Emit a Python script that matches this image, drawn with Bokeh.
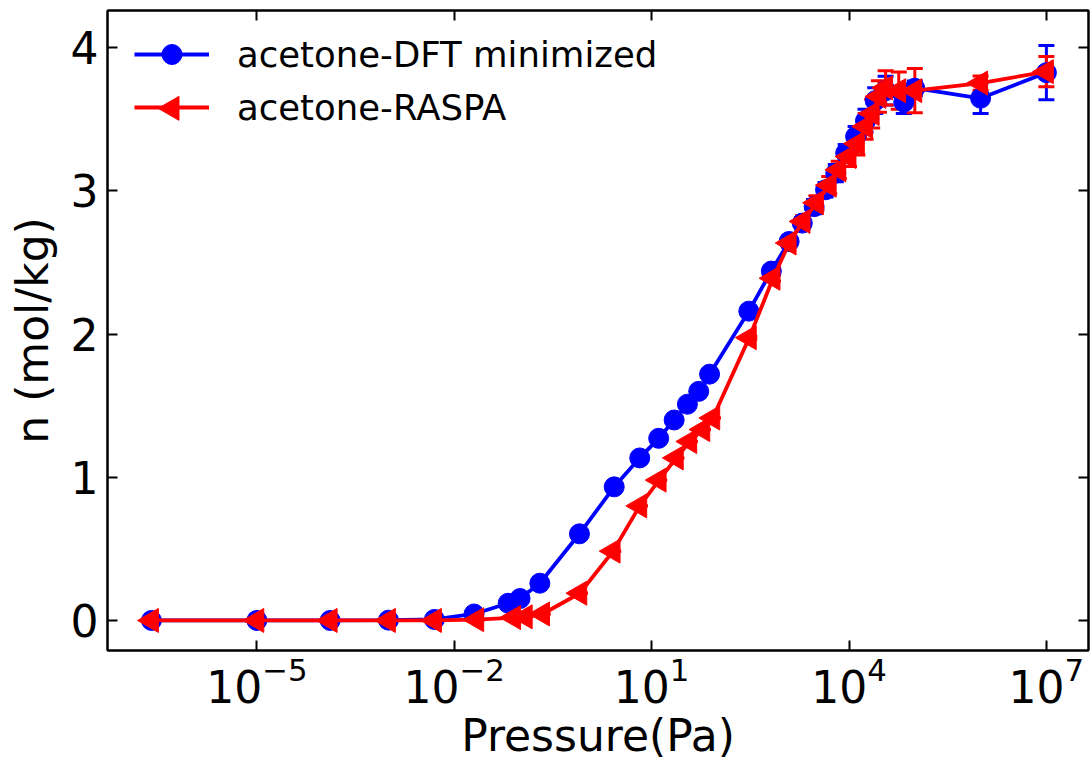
import numpy as np
from bokeh.plotting import figure
from bokeh.models import (Range1d, FixedTicker, LogAxis, LinearAxis, Whisker, TeeHead,
                          ColumnDataSource, Legend, LegendItem)
from bokeh.embed import file_html
from bokeh.resources import INLINE

# ---------------- data ----------------
p_dft = [2.5e-7, 1e-5, 1.3e-4, 1e-3, 5e-3, 0.02, 0.066, 0.1, 0.2, 0.8, 2.7, 6.6, 12.8, 22, 35, 52, 76,
         300, 660, 1230, 1950, 2950, 4400, 6300, 8900, 12600, 17800, 25000, 36000, 68000, 1e5, 1e6, 1e7]
n_dft = [0.0, 0.0, 0.0, 0.002, 0.007, 0.045, 0.12, 0.153, 0.26, 0.605, 0.933, 1.135, 1.272, 1.40, 1.51, 1.60, 1.72,
         2.16, 2.44, 2.647, 2.775, 2.89, 3.008, 3.124, 3.264, 3.38, 3.49, 3.63, 3.70, 3.62, 3.717, 3.647, 3.826]
e_dft = [0.0] * 17 + [0.01, 0.02, 0.03, 0.04, 0.05, 0.05, 0.06, 0.06, 0.07, 0.08, 0.09, 0.10, 0.08, 0.05, 0.107, 0.19]

p_raspa = [2.5e-7, 1e-5, 1.3e-4, 1e-3, 5e-3, 0.022, 0.08, 0.12, 0.22, 0.81, 2.6, 6.6, 13, 23.7, 38, 60, 85,
           305, 700, 1230, 2000, 3200, 5000, 7000, 10000, 13400, 17900, 22500, 28500, 36000, 57000, 1e5, 1e6, 1e7]
n_raspa = [0.0, 0.0, 0.0, 0.0, 0.0, 0.005, 0.02, 0.025, 0.045, 0.19, 0.484, 0.80, 0.98, 1.135, 1.25, 1.333, 1.414,
           1.975, 2.39, 2.636, 2.787, 2.917, 3.04, 3.147, 3.24, 3.33, 3.45, 3.54, 3.66, 3.72, 3.70, 3.70, 3.753, 3.833]
e_raspa = [0.0] * 17 + [0.01, 0.02, 0.03, 0.04, 0.05, 0.06, 0.06, 0.07, 0.08, 0.09, 0.10, 0.11, 0.12, 0.13, 0.155, 0.05, 0.105, 0.23]

x_ticks = [1e-5, 1e-2, 1e1, 1e4, 1e7]
y_ticks = [0, 1, 2, 3, 4]

label_dft = "acetone-DFT minimized"
label_raspa = "acetone-RASPA"

FONT = "DejaVu Sans"

# ---------------- layout constants ----------------
XLOG0, XLOG1 = -7.27, 7.64
Y0, Y1 = -0.21, 4.26
FRAME_W, FRAME_H = 980, 641
BORDER_L, BORDER_T = 108, 10

# ---------------- figure ----------------
p = figure(width=1092, height=763, x_axis_type="log", output_backend="svg", toolbar_location=None,
           x_range=Range1d(10 ** XLOG0, 10 ** XLOG1), y_range=Range1d(Y0, Y1),
           min_border_left=107, min_border_right=4, min_border_top=10, min_border_bottom=112)
p.background_fill_color = "white"
p.border_fill_color = "white"
p.outline_line_color = "black"
p.outline_line_width = 2
p.xgrid.visible = False
p.ygrid.visible = False

def style_axis(ax, show_labels=True):
    ax.major_tick_in = 10
    ax.major_tick_out = 0
    ax.major_tick_line_width = 2
    ax.major_tick_line_color = "black"
    ax.minor_tick_line_color = None
    ax.axis_line_width = 2
    ax.axis_line_color = "black"
    ax.major_label_text_font = FONT
    ax.axis_label_text_font = FONT
    ax.axis_label_text_font_style = "normal"
    ax.axis_label_text_color = "black"
    if show_labels:
        ax.major_label_text_color = "black"
        ax.major_label_text_font_size = "44px"
        ax.axis_label_text_font_size = "44px"
    else:
        ax.major_label_text_font_size = "1px"
        ax.major_label_text_alpha = 0
        ax.major_label_standoff = 0

xa = p.xaxis[0]
xa.ticker = FixedTicker(ticks=x_ticks)
style_axis(xa)
xa.axis_label = "Pressure(Pa)"
xa.major_label_standoff = 6
xa.axis_label_standoff = 4

ya = p.yaxis[0]
ya.ticker = FixedTicker(ticks=y_ticks)
style_axis(ya)
ya.axis_label = "n (mol/kg)"
ya.major_label_standoff = 9
ya.axis_label_standoff = 10

top = LogAxis(ticker=FixedTicker(ticks=x_ticks))
style_axis(top, show_labels=False)
p.add_layout(top, "above")
right = LinearAxis(ticker=FixedTicker(ticks=y_ticks))
style_axis(right, show_labels=False)
p.add_layout(right, "right")

# ---------------- series ----------------
def series(px, n, err, color, marker, angle):
    lower = [v - e for v, e in zip(n, err)]
    upper = [v + e for v, e in zip(n, err)]
    src = ColumnDataSource(dict(x=px, y=n, lower=lower, upper=upper))
    wh = Whisker(base="x", upper="upper", lower="lower", source=src, dimension="height",
                 line_color=color, line_width=3,
                 upper_head=TeeHead(size=16, line_color=color, line_width=3),
                 lower_head=TeeHead(size=16, line_color=color, line_width=3))
    p.add_layout(wh)
    ln = p.line("x", "y", source=src, line_color=color, line_width=3.8)
    sc = p.scatter("x", "y", source=src, marker=marker, size=20 if marker == "circle" else 24,
                   angle=angle, fill_color=color, line_color=color, line_width=1)
    return ln, sc

l1, s1 = series(p_dft, n_dft, e_dft, "#0000ff", "circle", 0.0)
l2, s2 = series(p_raspa, n_raspa, e_raspa, "#ff0000", "triangle", np.pi / 2)

# legend: rows centred at y=55 and y=108 px, handle from x=135 to 210 px
ROW_H, ROW_GAP = 50, 3
legend_h = 2 * ROW_H + ROW_GAP
legend = Legend(items=[LegendItem(label=label_dft, renderers=[l1, s1]),
                       LegendItem(label=label_raspa, renderers=[l2])],
                location=(135 - BORDER_L, FRAME_H - (55 - ROW_H / 2 - BORDER_T) - legend_h),
                margin=0, padding=0, spacing=ROW_GAP,
                glyph_width=75, glyph_height=ROW_H, label_height=ROW_H, label_standoff=28,
                label_text_font=FONT, label_text_font_size="35.5px", label_text_color="black",
                label_text_baseline="middle",
                border_line_color=None, background_fill_alpha=0)
p.add_layout(legend)

# left-pointing triangle for the legend handle (Bokeh legends do not rotate markers)
hx = 10 ** (XLOG0 + (172.5 - BORDER_L) / FRAME_W * (XLOG1 - XLOG0))
hy = Y1 - (55 + ROW_H + ROW_GAP - BORDER_T) / FRAME_H * (Y1 - Y0)
p.scatter(x=[hx], y=[hy], marker="triangle", size=24, angle=np.pi / 2,
          fill_color="#ff0000", line_color="#ff0000", level="overlay")

open("out.html", "w").write(file_html(p, INLINE))
